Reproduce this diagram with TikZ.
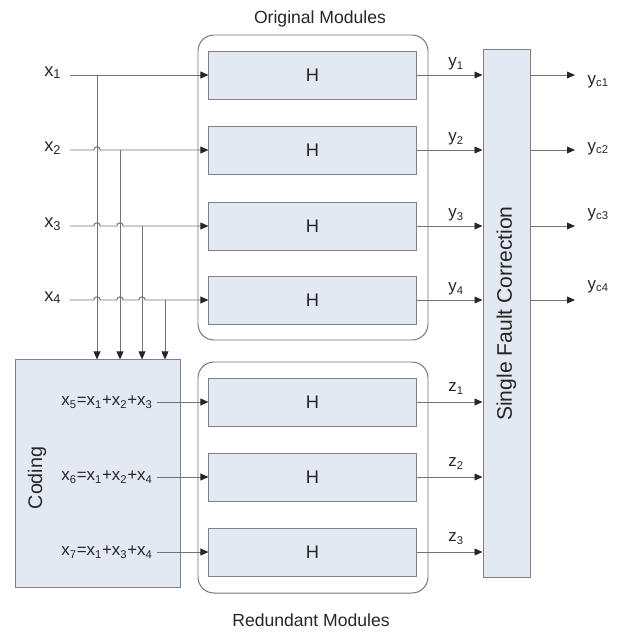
\documentclass[tikz,border=0pt]{standalone}
\usepackage{fontspec}
\setmainfont{Liberation Sans}
\usetikzlibrary{arrows.meta}

\definecolor{boxfill}{RGB}{227,233,243}

\begin{document}
\begin{tikzpicture}[
    x=0.025cm, y=-0.025cm,
    wire/.style={draw=black!55, line width=0.7pt},
    arr/.style={wire, -{Triangle[length=2mm,width=1.7mm,color=black!85]}},
    block/.style={draw=black!50, fill=boxfill, line width=0.7pt},
    hbox/.style={block, minimum width=5.175cm, minimum height=1.2cm,
                 font=\fontsize{13}{15}\selectfont, text=black!85},
    modframe/.style={draw=black!55, line width=0.7pt, rounded corners=0.4cm},
    grouptitle/.style={font=\fontsize{12.5}{15}\selectfont, text=black!85},
    blocklabel/.style={font=\fontsize{14}{16}\selectfont, text=black!85, rotate=90},
    inlabel/.style={font=\fontsize{13}{15}\selectfont, text=black!85, inner sep=1pt},
    outlabel/.style={font=\fontsize{12}{14}\selectfont, text=black!85, inner sep=1pt},
    codeq/.style={font=\fontsize{12}{14}\selectfont, text=black!85, inner sep=1pt},
]
\useasboundingbox (0,0) rectangle (621,633);

% module groups
\draw[modframe] (198,35) rectangle (428,340);
\draw[modframe] (198,362) rectangle (428,593);
\node[grouptitle] (orig) at (320,19) {Original Modules};
\node[grouptitle] (redu) at (311,620) {Redundant Modules};

% H modules
\node[hbox] (h1) at (312.5,75) {H};
\node[hbox] (h2) at (312.5,150) {H};
\node[hbox] (h3) at (312.5,226) {H};
\node[hbox] (h4) at (312.5,300) {H};
\node[hbox] (r1) at (312.5,402) {H};
\node[hbox] (r2) at (312.5,477) {H};
\node[hbox] (r3) at (312.5,552) {H};

% coding and correction blocks
\node[block, minimum width=4.1cm, minimum height=5.675cm] (coding) at (98,473.5) {};
\node[blocklabel] (codlbl) at (37,478) {Coding};
\node[codeq] (c5) at (107,402) {x\textsubscript{5}=x\textsubscript{1}+x\textsubscript{2}+x\textsubscript{3}};
\node[codeq] (c6) at (107,477) {x\textsubscript{6}=x\textsubscript{1}+x\textsubscript{2}+x\textsubscript{4}};
\node[codeq] (c7) at (107,552) {x\textsubscript{7}=x\textsubscript{1}+x\textsubscript{3}+x\textsubscript{4}};

\node[block, minimum width=1.175cm, minimum height=13.175cm] (sfc) at (506.5,313.5) {};
\node[blocklabel, font=\fontsize{15}{17}\selectfont] (sfclbl) at (sfc) {Single Fault Correction};

% inputs
\foreach \i/\y in {1/75,2/150,3/226,4/300} {
  \coordinate (in\i) at (70,\y);
  \node[inlabel, anchor=base east] (x\i) at (63,\y+1) {x\textsubscript{\i}};
}
\coordinate (tap1) at (97,75);
\coordinate (tap2) at (120,150);
\coordinate (tap3) at (142,226);
\coordinate (tap4) at (165,300);
\foreach \i in {1,...,4}
  \draw[arr] (tap\i) -- (tap\i |- coding.north);

\draw[arr] (in1) -- (h1.west);
\draw[arr] (in2) -- ([xshift=-0.08cm]tap1 |- in2)
    arc[start angle=180, end angle=0, radius=0.08cm] -- (h2.west);
\draw[arr] (in3) \foreach \t in {1,2} { -- ([xshift=-0.08cm]tap\t |- in3)
    arc[start angle=180, end angle=0, radius=0.08cm] } -- (h3.west);
\draw[arr] (in4) \foreach \t in {1,2,3} { -- ([xshift=-0.08cm]tap\t |- in4)
    arc[start angle=180, end angle=0, radius=0.08cm] } -- (h4.west);

\draw[arr, shorten <=2pt] (c5.east |- r1) -- (r1.west);
\draw[arr, shorten <=2pt] (c6.east |- r2) -- (r2.west);
\draw[arr, shorten <=2pt] (c7.east |- r3) -- (r3.west);

% module outputs
\draw[arr] (h1.east) -- (h1.east -| sfc.west) node[outlabel, pos=0.6, above=2pt] {y\textsubscript{1}};
\draw[arr] (h2.east) -- (h2.east -| sfc.west) node[outlabel, pos=0.6, above=2pt] {y\textsubscript{2}};
\draw[arr] (h3.east) -- (h3.east -| sfc.west) node[outlabel, pos=0.6, above=2pt] {y\textsubscript{3}};
\draw[arr] (h4.east) -- (h4.east -| sfc.west) node[outlabel, pos=0.6, above=2pt] {y\textsubscript{4}};
\draw[arr] (r1.east) -- (r1.east -| sfc.west) node[outlabel, pos=0.6, above=4pt] {z\textsubscript{1}};
\draw[arr] (r2.east) -- (r2.east -| sfc.west) node[outlabel, pos=0.6, above=4pt] {z\textsubscript{2}};
\draw[arr] (r3.east) -- (r3.east -| sfc.west) node[outlabel, pos=0.6, above=4pt] {z\textsubscript{3}};

% corrected outputs
\foreach \i/\y/\b in {1/75/84,2/150/151,3/226/217,4/300/289} {
  \coordinate (o\i) at (575,\y);
  \node[outlabel, anchor=base west] (yc\i) at (586,\b) {y\textsubscript{c\i}};
  \draw[arr] (sfc.east |- o\i) -- (o\i);
}
\end{tikzpicture}
\end{document}
